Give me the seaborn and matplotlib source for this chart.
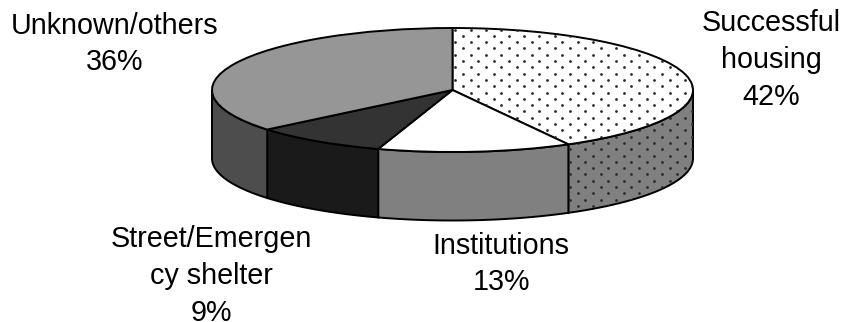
import numpy as np
import matplotlib
matplotlib.use("Agg")
import matplotlib.pyplot as plt
from matplotlib.patches import Polygon
import seaborn as sns

sns.set_theme(style="white")
plt.rcParams["font.family"] = ["Liberation Sans", "DejaVu Sans"]

categories = ["Successful\nhousing", "Institutions", "Street/Emergen\ncy shelter", "Unknown/others"]
values = [42, 13, 9, 36]
top_colors = ["#ffffff", "#ffffff", "#333333", "#969696"]
side_colors = ["#808080", "#808080", "#1a1a1a", "#4d4d4d"]
dotted = [True, False, False, False]
label_pos = [(771, 60), (501, 264), (211.5, 276), (115, 44)]

W, H = 846, 322
CX, CY, RX, RY, DEPTH = 452.5, 90, 240.5, 62, 68.5
EDGE = 1.4

fig = plt.figure(figsize=(W / 100, H / 100), dpi=100, facecolor="white")
ax = fig.add_axes([0, 0, 1, 1])
wedges, _ = ax.pie(values, startangle=90, counterclock=False, colors=top_colors,
                   wedgeprops=dict(edgecolor="black", linewidth=EDGE, zorder=3))
ax.set_aspect("auto")
ax.set_xlim(-CX / RX, (W - CX) / RX)
ax.set_ylim(-(H - CY) / RY, CY / RY)
ax.axis("off")
d = DEPTH / RY

def dots(clip, z):
    rows = np.arange(0, 40)
    xs, ys = [], []
    for r in rows:
        x = np.arange(440 + (r % 2) * 7.65, 710, 15.3)
        xs.append(x)
        ys.append(np.full_like(x, 29.5 + r * 6.3))
    xs = (np.concatenate(xs) - CX) / RX
    ys = (CY - np.concatenate(ys)) / RY
    sc = ax.scatter(xs, ys, s=4, color="#2b2b2b", linewidths=0, zorder=z)
    sc.set_clip_path(clip)

frac = np.cumsum([0] + values) / sum(values) * 2 * np.pi
for i, (a, b) in enumerate(zip(frac[:-1], frac[1:])):
    lo, hi = max(a, np.pi / 2), min(b, 3 * np.pi / 2)
    if hi > lo:
        t = np.linspace(lo, hi, 80)
        x, y = np.sin(t), np.cos(t)
        pts = np.r_[np.c_[x, y], np.c_[x[::-1], y[::-1] - d]]
        side = Polygon(pts, closed=True, facecolor=side_colors[i], edgecolor="black",
                       linewidth=EDGE, zorder=2)
        ax.add_patch(side)
        if dotted[i]:
            dots(side, 2.5)
    if dotted[i]:
        dots(wedges[i], 3.5)

pcts = [f"{v}%" for v in values]
for cat, pct, (px, py) in zip(categories, pcts, label_pos):
    fig.text(px / W, 1 - py / H, f"{cat}\n{pct}", ha="center", va="center",
             fontsize=20.7, color="black", linespacing=1.39, multialignment="center")

fig.savefig("out.png", dpi=100, facecolor="white")
